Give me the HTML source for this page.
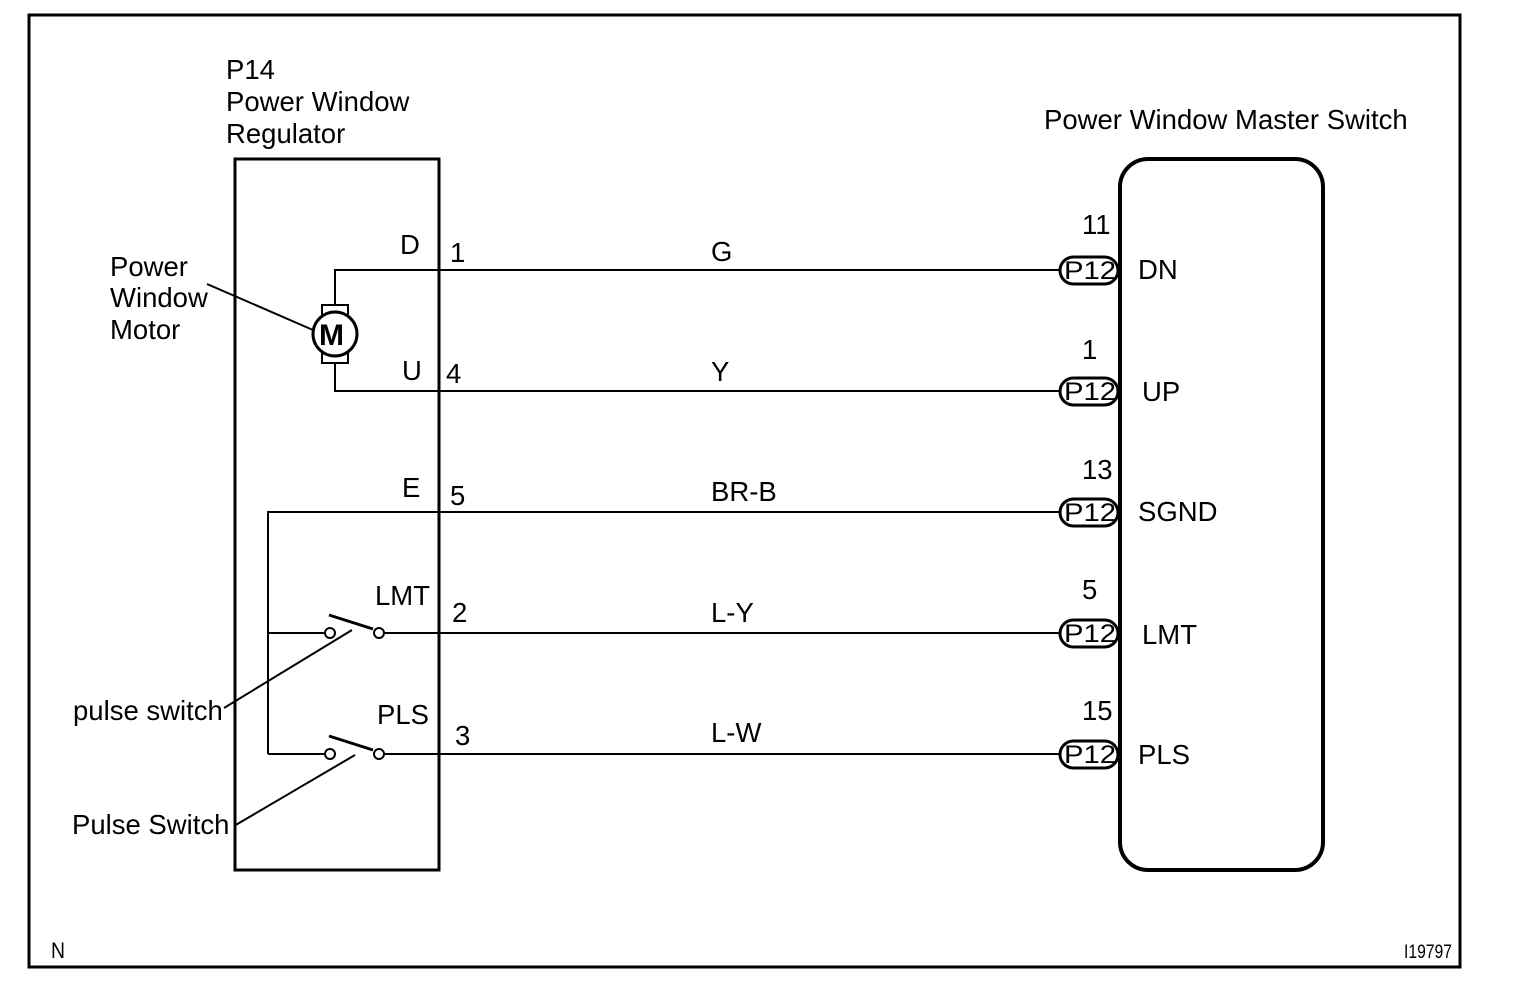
<!DOCTYPE html>
<html><head><meta charset="utf-8"><style>
html,body{margin:0;padding:0;background:#fff;}
svg{display:block;}
text{font-family:"Liberation Sans",Arial,sans-serif;fill:#000;}
</style></head><body>
<svg width="1520" height="992" viewBox="0 0 1520 992" xmlns="http://www.w3.org/2000/svg">
<rect x="29" y="15" width="1431" height="952" fill="none" stroke="#000" stroke-width="3"/>
<rect x="235" y="159" width="204" height="711" fill="none" stroke="#000" stroke-width="3"/>
<rect x="1120" y="159" width="203" height="711" rx="28" ry="28" fill="none" stroke="#000" stroke-width="4"/>
<g stroke="#000" stroke-width="2" fill="none">
<polyline points="335,305 335,270 1062,270"/>
<polyline points="335,363 335,391 1062,391"/>
<polyline points="268,754 268,512 1062,512"/>
<line x1="268" y1="633" x2="325" y2="633"/>
<line x1="384" y1="633" x2="1062" y2="633"/>
<line x1="268" y1="754" x2="325" y2="754"/>
<line x1="384" y1="754" x2="1062" y2="754"/>
<rect x="322" y="305" width="26" height="10"/>
<rect x="322" y="353" width="26" height="10"/>
<circle cx="335" cy="334" r="22" stroke-width="3" fill="#fff"/>
<circle cx="330" cy="633" r="5" fill="#fff"/>
<circle cx="379" cy="633" r="5" fill="#fff"/>
<line x1="329" y1="615" x2="373" y2="629" stroke-width="3"/>
<circle cx="330" cy="754" r="5" fill="#fff"/>
<circle cx="379" cy="754" r="5" fill="#fff"/>
<line x1="329" y1="736" x2="373" y2="750" stroke-width="3"/>
<line x1="207" y1="284" x2="313" y2="330"/>
<line x1="352" y1="630" x2="224" y2="708"/>
<line x1="355" y1="755" x2="234" y2="826"/>
</g>
<g stroke="#000" stroke-width="3" fill="#fff">
<rect x="1060" y="257" width="58" height="27" rx="13.5"/>
<rect x="1060" y="378" width="58" height="27" rx="13.5"/>
<rect x="1060" y="499" width="58" height="27" rx="13.5"/>
<rect x="1060" y="620" width="58" height="27" rx="13.5"/>
<rect x="1060" y="741" width="58" height="27" rx="13.5"/>
</g>
<text x="319" y="345" style="font-weight:bold;font-size:30px">M</text>
<g style="font-size:27.5px">
<text x="226" y="79">P14</text>
<text x="226" y="111">Power Window</text>
<text x="226" y="143">Regulator</text>
<text x="1044" y="129">Power Window Master Switch</text>
<text x="110" y="276">Power</text>
<text x="110" y="307">Window</text>
<text x="110" y="339">Motor</text>
<text x="400" y="254">D</text><text x="450" y="262">1</text>
<text x="402" y="380">U</text><text x="446" y="383">4</text>
<text x="402" y="497">E</text><text x="450" y="505">5</text>
<text x="375" y="605">LMT</text><text x="452" y="622">2</text>
<text x="377" y="724">PLS</text><text x="455" y="745">3</text>
<text x="711" y="261">G</text>
<text x="711" y="381">Y</text>
<text x="711" y="501">BR-B</text>
<text x="711" y="622">L-Y</text>
<text x="711" y="742">L-W</text>
<text x="73" y="720">pulse switch</text>
<text x="72" y="834">Pulse Switch</text>
<text x="1082" y="234">11</text>
<text x="1082" y="359">1</text>
<text x="1082" y="479">13</text>
<text x="1082" y="599">5</text>
<text x="1082" y="720">15</text>
<text x="1138" y="279">DN</text>
<text x="1142" y="401">UP</text>
<text x="1138" y="521">SGND</text>
<text x="1142" y="644">LMT</text>
<text x="1138" y="764">PLS</text>
</g>
<g style="font-size:25px">
<text x="1064" y="279" textLength="52" lengthAdjust="spacingAndGlyphs">P12</text>
<text x="1064" y="400" textLength="52" lengthAdjust="spacingAndGlyphs">P12</text>
<text x="1064" y="521" textLength="52" lengthAdjust="spacingAndGlyphs">P12</text>
<text x="1064" y="642" textLength="52" lengthAdjust="spacingAndGlyphs">P12</text>
<text x="1064" y="763" textLength="52" lengthAdjust="spacingAndGlyphs">P12</text>
</g>
<text x="51" y="958" style="font-size:22px" textLength="14" lengthAdjust="spacingAndGlyphs">N</text>
<text x="1404" y="958" style="font-size:19px" textLength="48" lengthAdjust="spacingAndGlyphs">I19797</text>
</svg>
</body></html>
